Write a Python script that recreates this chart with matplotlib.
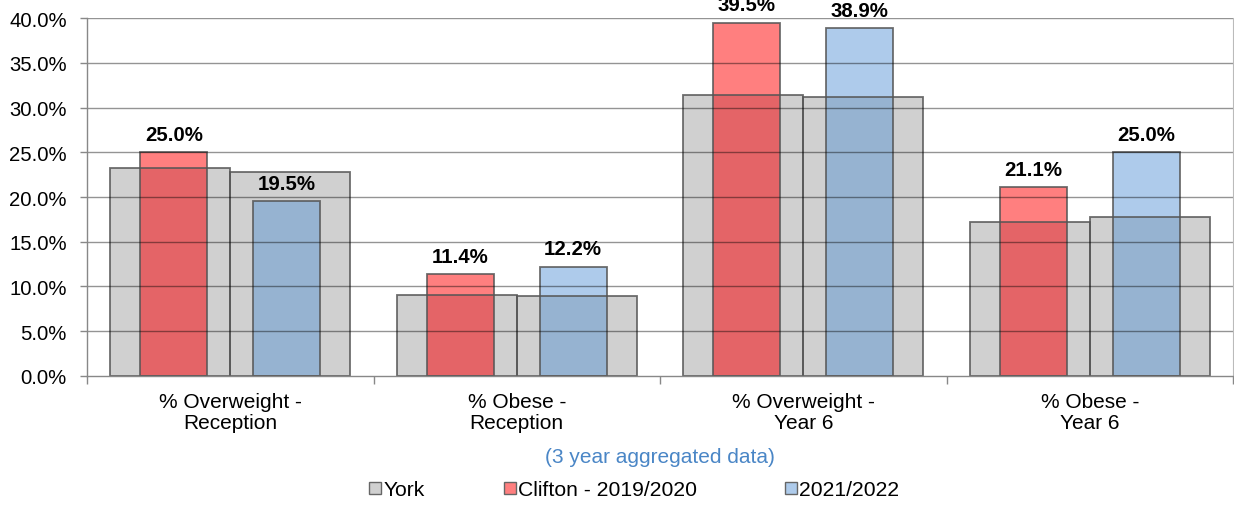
import matplotlib
matplotlib.use("Agg")
import matplotlib.pyplot as plt
from matplotlib.patches import Patch
from matplotlib.ticker import FixedLocator, FuncFormatter
import numpy as np

plt.rcParams['font.family'] = ['Liberation Sans', 'DejaVu Sans']

categories = ["% Overweight -\nReception", "% Obese -\nReception",
              "% Overweight -\nYear 6", "% Obese -\nYear 6"]
york_2019 = [23.3, 9.0, 31.4, 17.2]
york_2021 = [22.8, 8.9, 31.2, 17.8]
clifton_2019 = [25.0, 11.4, 39.5, 21.1]
clifton_2021 = [19.5, 12.2, 38.9, 25.0]
y_ticks = [0, 5, 10, 15, 20, 25, 30, 35, 40]
subtitle = "(3 year aggregated data)"
legend_labels = ["York", "Clifton - 2019/2020", "2021/2022"]

GREY = "#d0d0d0"
RED = "#ff7f7f"
RED_DARK = "#e46467"
BLUE = "#aecbeb"
BLUE_DARK = "#96b3d1"
EDGE = "#555555"

fig = plt.figure(figsize=(12.34, 5.06), dpi=100)
ax = fig.add_axes([87 / 1234, 1 - 376.7 / 506, (1233 - 87) / 1234, (376.7 - 19.3) / 506])

x = np.arange(len(categories))
york_w, york_off = 0.419, 0.2095
c_w, c_off = 0.234, 0.197

york_x = np.concatenate([x - york_off, x + york_off])
york_v = np.array(york_2019 + york_2021)
c_x = np.concatenate([x - c_off, x + c_off])
c_v = np.array(clifton_2019 + clifton_2021)
c_col = [RED] * 4 + [BLUE] * 4
c_dark = [RED_DARK] * 4 + [BLUE_DARK] * 4

# York bars (fill)
ax.bar(york_x, york_v, width=york_w, color=GREY, edgecolor="none", zorder=1)
# Clifton bars (fill, lighter where above York)
ax.bar(c_x, c_v, width=c_w, color=c_col, edgecolor="none", zorder=2)
# darker tone where a Clifton bar overlaps the York bar behind it
ax.bar(c_x, np.minimum(c_v, york_v), width=c_w, color=c_dark, edgecolor="none", zorder=3)
# outlines
ax.bar(york_x, york_v, width=york_w, facecolor="none", edgecolor=EDGE,
       linewidth=1.3, alpha=0.85, zorder=4)
ax.bar(c_x, c_v, width=c_w, facecolor="none", edgecolor=EDGE,
       linewidth=1.3, alpha=0.85, zorder=5)

# value labels
for xi, v in zip(c_x, c_v):
    ax.annotate(f"{v:.1f}%", (xi, v), xytext=(0, 6), textcoords="offset points",
                ha="center", va="bottom", fontsize=14.7, fontweight="bold",
                color="black", annotation_clip=False, zorder=8)

ax.set_xlim(-0.5, len(categories) - 0.5)
ax.set_ylim(0, 40)

# gridlines over bars
for t in y_ticks[1:]:
    ax.axhline(t, color="black", alpha=0.42, linewidth=1.0, zorder=6)

ax.yaxis.set_major_locator(FixedLocator(y_ticks))
ax.yaxis.set_major_formatter(FuncFormatter(lambda v, p: f"{v:.1f}%"))
ax.tick_params(axis="y", length=5, width=1, color="#888888", pad=9.5,
               labelsize=14.6, labelcolor="black")

ax.set_xticks(x)
ax.set_xticklabels(categories, fontsize=15, linespacing=1.12)
ax.set_xticks(np.arange(-0.5, len(categories)), minor=True)
ax.tick_params(axis="x", which="major", length=0, pad=12)
ax.tick_params(axis="x", which="minor", length=6, width=1, color="#888888")

for side in ["left", "bottom"]:
    ax.spines[side].set_color("#888888")
    ax.spines[side].set_linewidth(1.0)
ax.spines["right"].set_color("#bbbbbb")
ax.spines["top"].set_visible(False)
for s in ax.spines.values():
    s.set_zorder(7)

fig.text(660 / 1234, 1 - 458 / 506, subtitle, ha="center", va="center",
         fontsize=15, color="#4a86c6")

# legend entries, one per column position
colors = [GREY, RED, BLUE]
starts = [369, 504, 785]
for lab, col, x0 in zip(legend_labels, colors, starts):
    h = Patch(facecolor=col, edgecolor="#666666", linewidth=1.0)
    fig.legend([h], [lab], loc="center left", bbox_to_anchor=(x0 / 1234, 1 - 491 / 506),
               frameon=False, fontsize=15.2, handlelength=0.55, handleheight=0.55,
               handletextpad=0.12, borderpad=0, borderaxespad=0)

fig.savefig("out.png", dpi=100)
